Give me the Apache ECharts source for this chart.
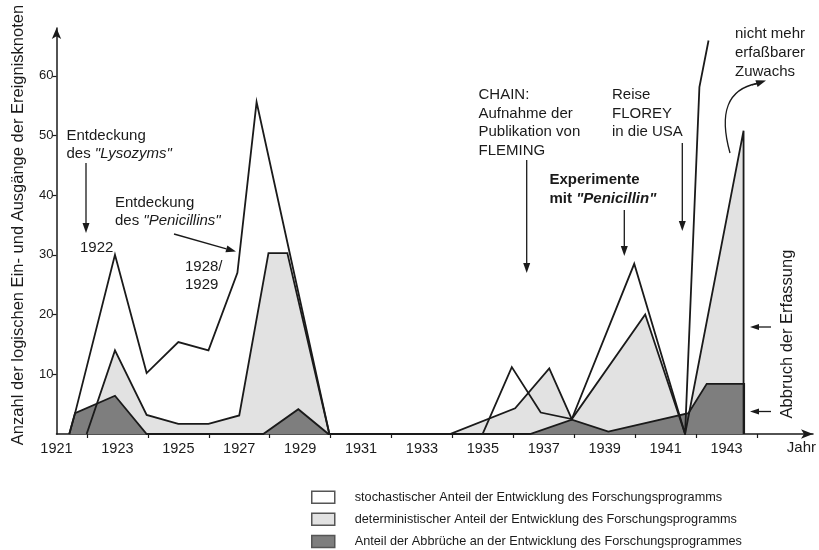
<!DOCTYPE html>
<html>
<head>
<meta charset="utf-8">
<script src="https://cdn.jsdelivr.net/npm/echarts@6/dist/echarts.min.js"></script>
<style>
html,body{margin:0;padding:0;background:#fff;}
#chart{width:819px;height:550px;}
</style>
</head>
<body>
<div id="chart"></div>
<script>
// ---- data (year, value) ----
const stochastic = [[1921.42,0],[1921.61,3.5],[1922.92,30],[1923.96,10.2],[1925.0,15.4],[1925.99,14],[1926.94,27],[1927.57,55.6],[1929.96,0],[1934.99,0],[1935.95,11.2],[1936.9,3.6],[1937.92,2.5],[1939.97,28.5],[1941.64,0],[1942.11,58.1],[1942.41,65.9]];
const deterministic = [[1921.99,0],[1922.92,14],[1923.96,3.2],[1925.0,1.7],[1925.99,1.7],[1927.0,3.1],[1927.96,30.3],[1928.58,30.3],[1929.96,0],[1933.92,0],[1936.06,4.3],[1937.18,11],[1937.92,2.5],[1940.33,20],[1941.64,0],[1943.56,50.8],[1943.56,0]];
const abbrueche = [[1921.42,0],[1921.61,3.5],[1922.92,6.4],[1923.96,0],[1927.79,0],[1928.94,4.15],[1929.93,0],[1936.55,0],[1937.92,2.4],[1939.12,0.4],[1941.75,3.5],[1942.35,8.4],[1943.58,8.4],[1943.58,0]];
const xLabelYears = [1921,1923,1925,1927,1929,1931,1933,1935,1937,1939,1941,1943];
const xTickYears = [1922,1924,1926,1928,1930,1932,1934,1936,1938,1940,1942,1944];
const yTicks = [10,20,30,40,50,60];
const seriesNames = [
  'stochastischer Anteil der Entwicklung des Forschungsprogramms',
  'deterministischer Anteil der Entwicklung des Forschungsprogramms',
  'Anteil der Abbrüche an der Entwicklung des Forschungsprogrammes'
];

const FF = '"Liberation Sans", Arial, sans-serif';
const INK = '#1a1a1a';
const LIGHT = '#e2e2e2';
const DARK = '#7e7e7e';

function txt(x, y, text, opts) {
  opts = opts || {};
  const size = opts.size || 15;
  const weight = opts.bold ? 'bold' : 'normal';
  return {
    type: 'text', z: 50, silent: true,
    style: {
      x: x, y: y, text: text,
      fontSize: size, fontFamily: FF, fontWeight: weight,
      fill: INK, align: opts.align || 'left', verticalAlign: 'middle',
      rich: {
        i: {fontSize: size, fontFamily: FF, fontStyle: 'italic', fontWeight: weight, fill: INK}
      }
    }
  };
}
function rotTxt(cx, cy, text, size) {
  const t = txt(0, 0, text, {size: size, align: 'center'});
  t.x = cx; t.y = cy; t.rotation = Math.PI / 2;
  return t;
}
function arrow(x1, y1, x2, y2, head, hw) {
  head = head || 10; hw = hw || 3.5;
  const dx = x2 - x1, dy = y2 - y1, L = Math.sqrt(dx*dx + dy*dy);
  const ux = dx / L, uy = dy / L;
  const bx = x2 - ux*head, by = y2 - uy*head;
  return [
    {type:'line', z:50, silent:true, shape:{x1:x1,y1:y1,x2:bx,y2:by}, style:{stroke:INK, lineWidth:1.3}},
    {type:'polygon', z:50, silent:true, shape:{points:[[x2,y2],[bx - uy*hw, by + ux*hw],[bx + uy*hw, by - ux*hw]]}, style:{fill:INK}}
  ];
}

const graphics = [];
// y-axis title
graphics.push(rotTxt(18, 225, 'Anzahl der logischen Ein- und Ausgänge der Ereignisknoten', 16.5));
// Jahr
graphics.push(txt(816, 448, 'Jahr', {size:15, align:'right'}));
// Abbruch der Erfassung
graphics.push(rotTxt(787, 334, 'Abbruch der Erfassung', 16.5));
graphics.push.apply(graphics, arrow(771, 327, 750, 327, 9, 3));
graphics.push.apply(graphics, arrow(771, 411.5, 750, 411.5, 9, 3));
// Lysozym
graphics.push(txt(66.5, 136, 'Entdeckung'));
graphics.push(txt(66.5, 154, 'des {i|"Lysozyms"}'));
graphics.push.apply(graphics, arrow(86, 163, 86, 233));
graphics.push(txt(80, 248, '1922'));
// Penicillin discovery
graphics.push(txt(115, 203, 'Entdeckung'));
graphics.push(txt(115, 221, 'des {i|"Penicillins"}'));
graphics.push.apply(graphics, arrow(174, 234, 236, 251.5));
graphics.push(txt(185, 267, '1928/'));
graphics.push(txt(185, 285, '1929'));
// CHAIN
graphics.push(txt(478.5, 95, 'CHAIN:'));
graphics.push(txt(478.5, 113.5, 'Aufnahme der'));
graphics.push(txt(478.5, 132, 'Publikation von'));
graphics.push(txt(478.5, 150.5, 'FLEMING'));
graphics.push.apply(graphics, arrow(526.7, 160, 526.7, 273));
// Experimente
graphics.push(txt(549.5, 180, 'Experimente', {bold:true}));
graphics.push(txt(549.5, 198.5, 'mit {i|"Penicillin"}', {bold:true}));
graphics.push.apply(graphics, arrow(624.3, 210, 624.3, 256));
// Reise FLOREY
graphics.push(txt(612, 95, 'Reise'));
graphics.push(txt(612, 113.5, 'FLOREY'));
graphics.push(txt(612, 132, 'in die USA'));
graphics.push.apply(graphics, arrow(682.3, 143, 682.3, 231));
// nicht mehr erfassbarer Zuwachs
graphics.push(txt(735, 33.5, 'nicht mehr'));
graphics.push(txt(735, 52.5, 'erfaßbarer'));
graphics.push(txt(735, 71.5, 'Zuwachs'));
graphics.push({type:'bezierCurve', z:50, silent:true, shape:{x1:730, y1:153, cpx1:713, cpy1:92, x2:757, y2:83.5}, style:{stroke:INK, lineWidth:1.3, fill:null}});
graphics.push.apply(graphics, arrow(752, 85, 766, 80.5, 10, 3.5));

const areaSeries = (name, data, color, z) => ({
  name: name, type: 'line', data: data, showSymbol: false, symbol: 'none', silent: true,
  lineStyle: {width: 0, opacity: 0},
  areaStyle: {color: color, opacity: 1},
  z: z, animation: false
});
const lineSeries = (name, data, z) => ({
  name: name, type: 'line', data: data, showSymbol: false, symbol: 'none', silent: true,
  lineStyle: {color: INK, width: 1.8, join: 'miter'},
  z: z, animation: false
});

const chart = echarts.init(document.getElementById('chart'), null, {renderer: 'canvas'});
chart.setOption({
  backgroundColor: '#ffffff',
  animation: false,
  grid: {left: 56.5, right: 6, top: 28, bottom: 116, containLabel: false},
  xAxis: {
    type: 'value', min: 1921, max: 1945.84,
    axisLine: {show: true, symbol: ['none', 'arrow'], symbolSize: [7, 12], lineStyle: {color: INK, width: 1.5}},
    axisTick: {show: true, customValues: xTickYears, length: 4, inside: false, lineStyle: {color: INK, width: 1.2}},
    axisLabel: {customValues: xLabelYears, formatter: v => String(Math.round(v)), fontSize: 14.5, fontFamily: FF, color: INK, margin: 7},
    splitLine: {show: false}
  },
  yAxis: {
    type: 'value', min: 0, max: 68,
    axisLine: {show: true, symbol: ['none', 'arrow'], symbolSize: [7, 11], lineStyle: {color: INK, width: 1.5}},
    axisTick: {show: true, customValues: yTicks, length: 4, inside: false, lineStyle: {color: INK, width: 1.2}},
    axisLabel: {customValues: yTicks, formatter: v => String(Math.round(v)), fontSize: 13, fontFamily: FF, color: INK, margin: 3},
    splitLine: {show: false}
  },
  legend: {
    orient: 'vertical', left: 311, top: 490.5, height: 90, width: 500, padding: 0, itemWidth: 23, itemHeight: 12, itemGap: 8.6,
    selectedMode: false, icon: 'rect',
    textStyle: {fontSize: 12.7, fontFamily: FF, color: INK, lineHeight: 12, padding: [0, 0, 0, 15]},
    data: [
      {name: seriesNames[0], icon: 'rect', itemStyle: {color: '#ffffff', borderColor: '#555', borderWidth: 1.5}},
      {name: seriesNames[1], icon: 'rect', itemStyle: {color: LIGHT, borderColor: '#555', borderWidth: 1.5}},
      {name: seriesNames[2], icon: 'rect', itemStyle: {color: DARK, borderColor: '#555', borderWidth: 1.5}}
    ]
  },
  series: [
    areaSeries(seriesNames[1], deterministic, LIGHT, 2),
    areaSeries(seriesNames[2], abbrueche, DARK, 3),
    lineSeries(seriesNames[0], stochastic, 5),
    lineSeries(seriesNames[1], deterministic, 5),
    lineSeries(seriesNames[2], abbrueche, 5)
  ],
  graphic: graphics
});
</script>
</body>
</html>
